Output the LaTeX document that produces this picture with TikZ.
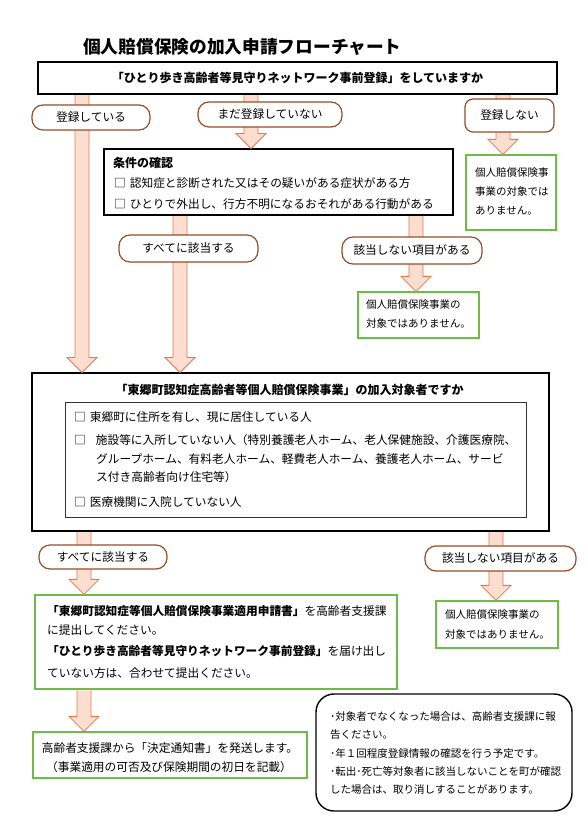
\documentclass[tikz,border=0pt]{standalone}
\usepackage{fontspec}
\setmainfont{Noto Sans CJK JP}
\definecolor{arrowline}{RGB}{226,122,78}
\definecolor{arrowfill}{RGB}{252,222,208}
\definecolor{pillbrown}{RGB}{150,78,40}
\definecolor{ngreen}{RGB}{108,188,70}
\newcommand{\jpsize}[1]{\fontsize{#1}{#1}\selectfont}
% block arrow: x, from node, to node
\newcommand{\flowarrow}[3]{%
  \path (#1,0) coordinate (ax);
  \draw[blockarrow] ([shift={(-7,0.6)}]ax |- #2.south) -- ([shift={(-7,-15)}]ax |- #3.north)
    -- ++(-8,0) -- (ax |- #3.north) -- ++(15,-15) -- ++(-8,0) -- ([shift={(7,0.6)}]ax |- #2.south);}
\begin{document}
\begin{tikzpicture}[x=1pt,y=-1pt,
  every node/.style={font=\jpsize{11.7}, inner sep=0pt},
  qbox/.style={draw, line width=1.1pt, fill=white},
  okbox/.style={draw=ngreen, line width=1.3pt, fill=white},
  pill/.style={draw=pillbrown, line width=1.2pt, fill=white, rounded corners=11pt},
  blockarrow/.style={draw=arrowline, line width=0.8pt, fill=arrowfill, line join=miter},
  txt/.style={anchor=west}]
\useasboundingbox[fill=white] (0,0) rectangle (587,838);

\node[txt, font=\jpsize{17.7}\bfseries] (title) at (83,47) {個人賠償保険の加入申請フローチャート};

% question 1
\node[qbox, minimum width=519, minimum height=32, font=\jpsize{12}\bfseries] (top) at (297.5,78)
  {「ひとり歩き高齢者等見守りネットワーク事前登録」をしていますか};

% conditions
\node[qbox, minimum width=349, minimum height=66] (cond) at (278.5,182) {};
\node[txt, font=\jpsize{12}\bfseries] (condtitle) at (113,163) {条件の確認};
\node[txt] (cond1) at (114,183) {□\hspace{4pt}認知症と診断された又はその疑いがある症状がある方};
\node[txt] (cond2) at (114,204) {□\hspace{4pt}ひとりで外出し、行方不明になるおそれがある行動がある};

% question 2
\node[qbox, minimum width=517, minimum height=158] (target) at (290.5,452) {};
\node[font=\jpsize{12}\bfseries] (targettitle) at (289.5,390)
  {「東郷町認知症高齢者等個人賠償保険事業」の加入対象者ですか};
\node[draw=black!80, line width=0.8pt, minimum width=461, minimum height=115] (reqs) at (295.5,459.5) {};
\node[txt] (req1) at (74,417) {□\hspace{4pt}東郷町に住所を有し、現に居住している人};
\node[txt] (req2) at (74,440) {□\hspace{10pt}施設等に入所していない人（特別養護老人ホーム、老人保健施設、介護医療院、};
\node[txt] (req2b) at (96,459) {グループホーム、有料老人ホーム、軽費老人ホーム、養護老人ホーム、サービ};
\node[txt] (req2c) at (96,477) {ス付き高齢者向け住宅等）};
\node[txt] (req3) at (74,502) {□\hspace{4pt}医療機関に入院していない人};

% not covered
\node[okbox, minimum width=90, minimum height=75] (ng1) at (511,192.5) {};
\node[txt, font=\jpsize{10.5}] (ng1a) at (475,173) {個人賠償保険事};
\node[txt, font=\jpsize{10.5}] (ng1b) at (475,192) {事業の対象では};
\node[txt, font=\jpsize{10.5}] (ng1c) at (475,211) {ありません。};

\node[okbox, minimum width=121, minimum height=46] (ng2) at (418.5,315) {};
\node[txt, font=\jpsize{10.5}] (ng2a) at (366,305) {個人賠償保険事業の};
\node[txt, font=\jpsize{10.5}] (ng2b) at (366,323) {対象ではありません。};

\node[okbox, minimum width=122, minimum height=47] (ng3) at (497,624.5) {};
\node[txt, font=\jpsize{10.5}] (ng3a) at (445,615) {個人賠償保険事業の};
\node[txt, font=\jpsize{10.5}] (ng3b) at (445,634) {対象ではありません。};

% application
\node[okbox, minimum width=362, minimum height=94] (apply) at (216,642) {};
\node[txt] (apply1) at (47,611) {{\bfseries 「東郷町認知症等個人賠償保険事業適用申請書」}を高齢者支援課};
\node[txt] (apply2) at (47,630) {に提出してください。};
\node[txt] (apply3) at (47,651) {{\bfseries 「ひとり歩き高齢者等見守りネットワーク事前登録」}を届け出し};
\node[txt] (apply4) at (47,673) {ていない方は、合わせて提出ください。};

\node[okbox, minimum width=274, minimum height=46] (notice) at (170,755) {};
\node (notice1) at (170,748) {高齢者支援課から「決定通知書」を発送します。};
\node (notice2) at (169,767) {（事業適用の可否及び保険期間の初日を記載）};

% memo
\node[draw, line width=1.4pt, rounded corners=18pt, minimum width=256, minimum height=117] (memo) at (444,752.5) {};
\node[txt, font=\jpsize{10.5}] (memo1) at (330,717) {･対象者でなくなった場合は、高齢者支援課に報};
\node[txt, font=\jpsize{10.5}] (memo2) at (330,735) {告ください。};
\node[txt, font=\jpsize{10.5}] (memo3) at (330,754) {･年１回程度登録情報の確認を行う予定です。};
\node[txt, font=\jpsize{10.5}] (memo4) at (330,771) {･転出･死亡等対象者に該当しないことを町が確認};
\node[txt, font=\jpsize{10.5}] (memo5) at (330,789) {した場合は、取り消しすることがあります。};

% arrows
\flowarrow{82}{top}{target}
\flowarrow{251}{top}{cond}
\flowarrow{503}{top}{ng1}
\flowarrow{180}{cond}{target}
\flowarrow{416}{cond}{ng2}
\flowarrow{84}{target}{apply}
\flowarrow{496}{target}{ng3}
\flowarrow{84}{apply}{notice}

% answers
\node[pill, minimum width=118, minimum height=25] (reg) at (91,117.5) {登録している};
\node[pill, minimum width=144, minimum height=25] (notyet) at (270,114.5) {まだ登録していない};
\node[pill, rounded corners=8pt, minimum width=89, minimum height=33] (noreg) at (509.5,115.5) {登録しない};
\node[pill, minimum width=139, minimum height=27] (allyes1) at (188.5,248.5) {すべてに該当する};
\node[pill, minimum width=140, minimum height=27] (somenot1) at (412,250.5) {該当しない項目がある};
\node[pill, minimum width=128, minimum height=24] (allyes2) at (103,557) {すべてに該当する};
\node[pill, minimum width=151, minimum height=25] (somenot2) at (500.5,558.5) {該当しない項目がある};
\end{tikzpicture}
\end{document}
